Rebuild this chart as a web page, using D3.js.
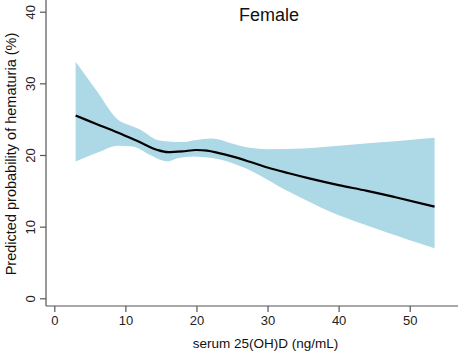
<!DOCTYPE html>
<html>
<head>
<meta charset="utf-8">
<script src="https://cdn.jsdelivr.net/npm/d3@7"></script>
<style>
  html, body { margin: 0; padding: 0; background: #fff; }
  svg { display: block; font-family: "Liberation Sans", Arial, sans-serif; }
</style>
</head>
<body>
<svg id="chart" width="458" height="355"></svg>
<script>
// Fitted curve: serum 25(OH)D (ng/mL) vs predicted probability (%)
const fitX = [3, 6, 9, 12, 14.5, 16, 18, 20, 21.5, 23, 25, 27.5, 30, 33, 36, 40, 44, 48, 53.5];
const fitY = [25.5, 24.3, 23.1, 21.8, 20.7, 20.4, 20.5, 20.7, 20.6, 20.3, 19.8, 19.05, 18.25, 17.45, 16.7, 15.8, 15.0, 14.1, 12.8];

// Upper confidence bound
const upperX = [3, 6, 9, 10.5, 12, 14.5, 16, 18, 20, 22, 23, 25, 27.5, 30, 35, 40, 45, 50, 53.5];
const upperY = [33.0, 28.9, 24.9, 24.2, 23.6, 22.1, 21.9, 21.8, 22.1, 22.3, 22.2, 21.6, 21.0, 20.8, 20.9, 21.3, 21.7, 22.1, 22.4];

// Lower confidence bound
const lowerX = [3, 6, 9, 11, 13.5, 15, 16, 17.2, 19.6, 22, 25, 27, 29, 32, 36, 39, 43, 47, 50, 53.5];
const lowerY = [19.1, 20.3, 21.3, 21.2, 20.0, 19.3, 19.1, 19.5, 19.8, 19.6, 18.9, 18.1, 17.1, 15.4, 13.4, 12.0, 10.5, 9.1, 8.1, 7.0];

const xTicks = [0, 10, 20, 30, 40, 50];
const yTicks = [0, 10, 20, 30, 40];
const titleText = "Female";
const xTitle = "serum 25(OH)D (ng/mL)";
const yTitle = "Predicted probability of hematuria (%)";

const svg = d3.select("#chart");
const x = d3.scaleLinear().domain([0, 50]).range([54.3, 409.7]);
const y = d3.scaleLinear().domain([0, 40]).range([298.3, 11.7]);

// Band polygon: upper bound forward, lower bound backward
const upperPts = upperX.map((v, i) => [x(v), y(upperY[i])]);
const lowerPtsRev = lowerX.map((v, i) => [x(v), y(lowerY[i])]).reverse();
const smooth = d3.line().curve(d3.curveMonotoneX);
const upperD = smooth(upperPts);
const lowerD = smooth(lowerPtsRev.slice().reverse());
// reversed lower path drawn with the same curve as a forward path reversed manually
const lowerBack = d3.line().curve(d3.curveMonotoneX)(lowerPtsRev);
const bandD = upperD + "L" + lowerPtsRev[0].join(",") + lowerBack.replace(/^M[^LC]*/, "") + "Z";
svg.append("path")
  .attr("d", bandD)
  .attr("fill", "#add8e6")
  .attr("stroke", "none");

// Fitted line
svg.append("path")
  .datum(fitX.map((v, i) => [v, fitY[i]]))
  .attr("d", d3.line().x(d => x(d[0])).y(d => y(d[1])).curve(d3.curveMonotoneX))
  .attr("fill", "none")
  .attr("stroke", "#000")
  .attr("stroke-width", 2.2);

// Axes frame (L-shaped)
const axisColor = "#555";
svg.append("line").attr("x1", 46).attr("x2", 46).attr("y1", 0).attr("y2", 306)
  .attr("stroke", axisColor).attr("stroke-width", 1.2);
svg.append("line").attr("x1", 46).attr("x2", 458).attr("y1", 306).attr("y2", 306)
  .attr("stroke", axisColor).attr("stroke-width", 1.2);

// X axis
const xAxis = svg.append("g").attr("transform", "translate(0,306)")
  .call(d3.axisBottom(x).tickValues(xTicks).tickSize(6).tickSizeOuter(0).tickPadding(4));
xAxis.select(".domain").remove();
xAxis.selectAll(".tick line").attr("stroke", axisColor).attr("stroke-width", 1.2);
xAxis.selectAll(".tick text").attr("font-size", 13).attr("fill", "#222")
  .attr("font-family", "Liberation Sans, Arial, sans-serif");

// Y axis
const yAxis = svg.append("g").attr("transform", "translate(46,0)")
  .call(d3.axisLeft(y).tickValues(yTicks).tickSize(6).tickSizeOuter(0));
yAxis.select(".domain").remove();
yAxis.selectAll(".tick line").attr("stroke", axisColor).attr("stroke-width", 1.2);
yAxis.selectAll(".tick text")
  .attr("font-size", 13).attr("fill", "#222")
  .attr("font-family", "Liberation Sans, Arial, sans-serif")
  .attr("x", null).attr("dy", null)
  .attr("text-anchor", "middle")
  .attr("transform", "translate(-11,0) rotate(-90)");

// Title
svg.append("text").attr("x", 269).attr("y", 20.7).attr("text-anchor", "middle")
  .attr("font-size", 18).attr("fill", "#111").text(titleText);

// X title
svg.append("text").attr("x", 265.5).attr("y", 348).attr("text-anchor", "middle")
  .attr("font-size", 13.5).attr("fill", "#111").text(xTitle);

// Y title
svg.append("text").attr("transform", "translate(16,154) rotate(-90)")
  .attr("text-anchor", "middle")
  .attr("font-size", 14.5).attr("fill", "#111").text(yTitle);
</script>
</body>
</html>
